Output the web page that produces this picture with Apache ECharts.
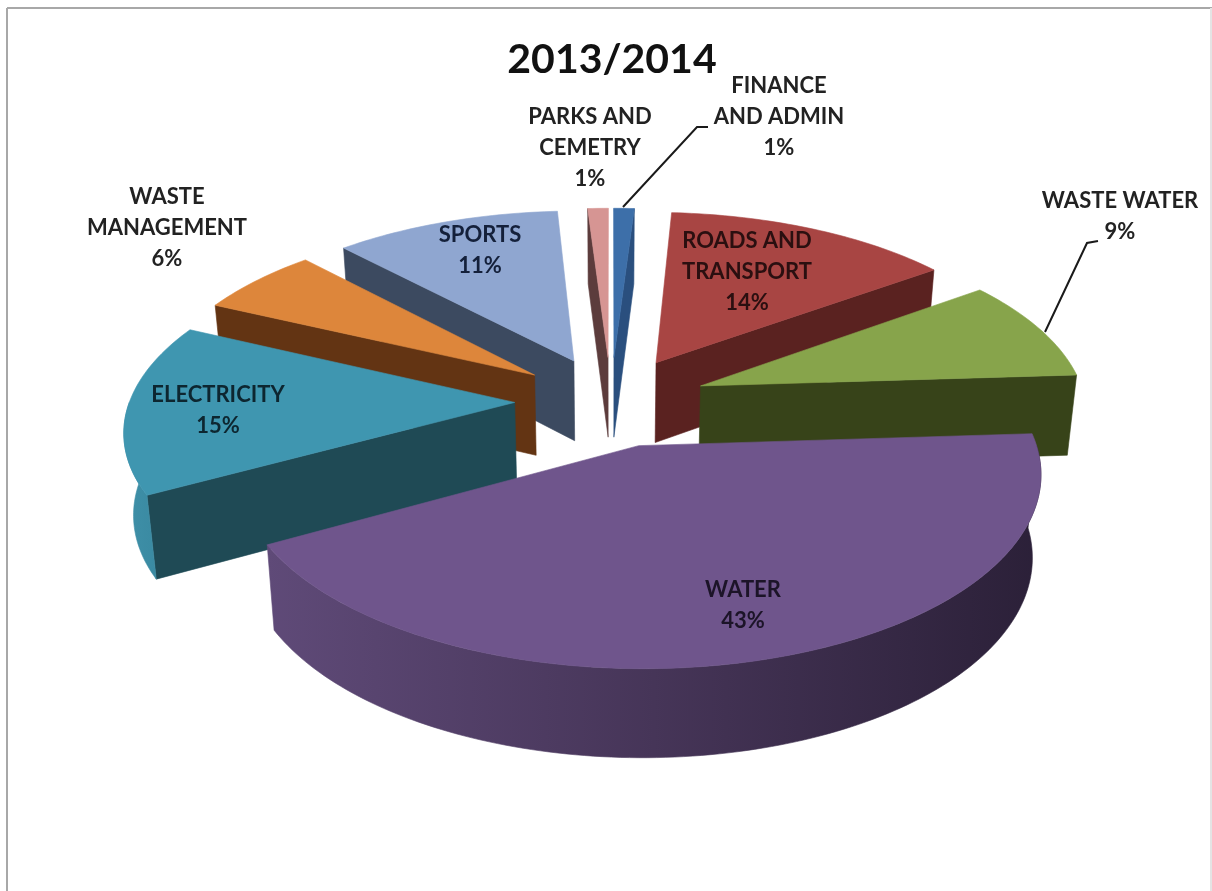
<!DOCTYPE html>
<html>
<head>
<meta charset="utf-8">
<style>html,body{margin:0;padding:0;background:#fff}#c{width:1212px;height:891px}</style>
<script src="https://cdn.jsdelivr.net/npm/echarts@6/dist/echarts.min.js"></script>
</head>
<body>
<div id="c"></div>
<script>
// ---- data (clockwise from 12 o'clock) ----
const chartTitle = '2013/2014';
const categories = ['FINANCE\nAND ADMIN','ROADS AND\nTRANSPORT','WASTE WATER','WATER','ELECTRICITY','WASTE\nMANAGEMENT','SPORTS','PARKS AND\nCEMETRY'];
const values = [1,14,9,43,15,6,11,1];

// ---- styles ----
const topColors  = ['#3d6fa9','#a84543','#87a44b','#6f558c','#3f96b0','#dd863b','#8fa6d0','#d69593'];
const sideColors = ['#2a4f7e','#5a2220','#374319','#5d4775','#1f4a55','#633413','#3c4a60','#5c3c3c'];
const rimStops   = [['#3d6fa9','#3d6fa9'],['#6b2a28','#6b2a28'],['#374319','#374319'],['#5f4a78','#463558','#2b2038'],['#3f90a8','#3a8aa2'],['#633413','#633413'],['#3c4a60','#3c4a60'],['#5c3c3c','#5c3c3c']];
const labelAnchors = [[779,117],[747,272],[1120,216],[743,605],[218,410],[167,228],[480,250],[590,148]];
const labelFill = ['#222','#2a0f10','#222','#1c1428','#0d2630','#222','#14203a','#222'];
const leaders = {0:[[623,207],[697,127],[708,127]], 2:[[1045,332],[1087,243],[1098,241]]};

// ---- projection of the exploded pie ----
const view = {cx:611, cy:401, A:385, B:180, p:0.134, explode:0.25, depth:81, shrinkX:0.98, growY:1.03};
const total = values.reduce((a,b)=>a+b,0);
const slices = [];
values.reduce((acc,v,i)=>{
  const a0 = acc/total*Math.PI*2, a1 = (acc+v)/total*Math.PI*2, m = (a0+a1)/2;
  slices.push({i,a0,a1,ox:Math.sin(m)*view.explode,oy:-Math.cos(m)*view.explode});
  return acc+v;
},0);
function project(s,r,a,bottom){
  const X = s.ox + r*Math.sin(a), Y = s.oy - r*Math.cos(a), w = 1 - view.p*Y;
  let sx = view.A*X/w, sy = view.B*Y/w;
  if(bottom){ sx*=view.shrinkX; sy = sy*view.growY + view.depth; }
  return [view.cx+sx, view.cy+sy];
}
function arc(s,a0,a1,bottom){
  const n = Math.max(2,Math.ceil((a1-a0)/0.02)), pts=[];
  for(let k=0;k<=n;k++) pts.push(project(s,1,a0+(a1-a0)*k/n,bottom));
  return pts;
}
const poly = (points,fill)=>({type:'polygon',shape:{points},style:{fill,stroke:fill,lineWidth:0.6}});

function renderSlice(params,api){
  const s = slices[api.value(0)], i = s.i, children=[];
  const apexT = project(s,0,0,false), apexB = project(s,0,0,true);
  const wall = a => poly([apexT,project(s,1,a,false),project(s,1,a,true),apexB],sideColors[i]);
  if(Math.sin(s.a0)<0) children.push(wall(s.a0));
  if(Math.sin(s.a1)>0) children.push(wall(s.a1));
  const f0 = Math.max(s.a0,Math.PI/2), f1 = Math.min(s.a1,Math.PI*1.5);
  if(f1>f0){
    const t = arc(s,f0,f1,false), b = arc(s,f0,f1,true).reverse();
    // gradient runs from the left of the rim (first stop) to its right
    const st = rimStops[i];
    children.push(poly(t.concat(b),new echarts.graphic.LinearGradient(0,0,1,0,
      st.map((c,k)=>({offset:k/(st.length-1),color:c})))));
  }
  children.push(poly([apexT].concat(arc(s,s.a0,s.a1,false)),topColors[i]));
  return {type:'group',children};
}
function renderLabel(params,api){
  const i = api.value(0), children=[];
  const [x,y] = labelAnchors[i];
  children.push({type:'text',style:{x,y,text:categories[i]+'\n'+values[i]+'%',
    font:'bold 22px Lato, "Open Sans", sans-serif',fill:labelFill[i],align:'center',verticalAlign:'middle',lineHeight:31}});
  if(leaders[i]) children.push({type:'polyline',shape:{points:leaders[i]},style:{stroke:'#1a1a1a',lineWidth:2,fill:null}});
  return {type:'group',children};
}
const paintOrder = slices.slice().sort((a,b)=>a.oy-b.oy).map(s=>[s.i,values[s.i]]);

const chart = echarts.init(document.getElementById('c'),null,{renderer:'canvas'});
chart.setOption({
  animation:false,
  backgroundColor:'#ffffff',
  title:{text:chartTitle,left:607,top:34,textAlign:'center',textStyle:{fontFamily:'Lato',fontWeight:'bold',fontSize:41,color:'#111'}},
  graphic:[
    {type:'line',shape:{x1:7,y1:8,x2:7,y2:891},style:{stroke:'#a8a8a8',lineWidth:2}},
    {type:'line',shape:{x1:7,y1:8,x2:1212,y2:8},style:{stroke:'#a8a8a8',lineWidth:2}},
    {type:'line',shape:{x1:1211,y1:8,x2:1211,y2:891},style:{stroke:'#e4e4e4',lineWidth:2}}
  ],
  series:[
    {type:'custom',coordinateSystem:'none',renderItem:renderSlice,data:paintOrder,silent:true,z:2},
    {type:'custom',coordinateSystem:'none',renderItem:renderLabel,data:values.map((v,i)=>[i,v]),silent:true,z:3}
  ]
});
</script>
</body>
</html>
